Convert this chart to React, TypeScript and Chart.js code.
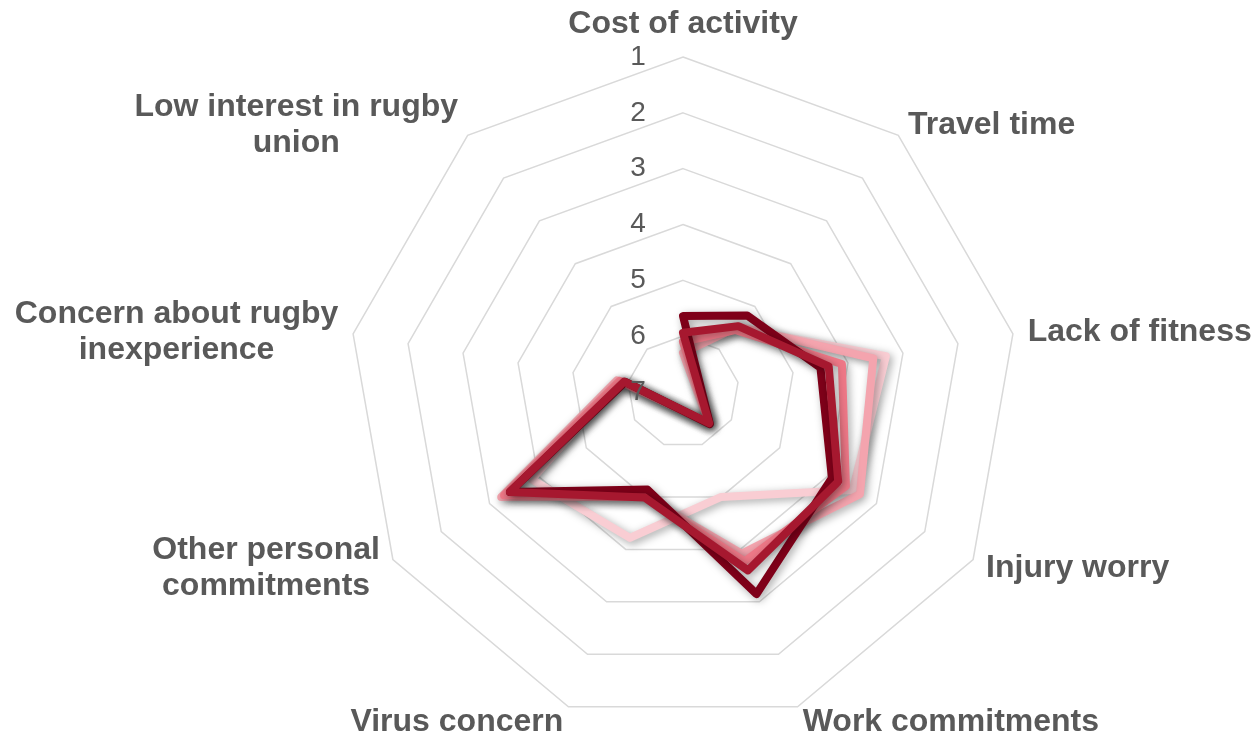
import React, { useEffect, useRef } from "react";
import { Chart, registerables } from "chart.js";

Chart.register(...registerables);

const categories: (string | string[])[] = [
  "Cost of activity",
  "Travel time",
  "Lack of fitness",
  "Injury worry",
  "Work commitments",
  "Virus concern",
  ["Other personal", "commitments"],
  ["Concern about rugby", "inexperience"],
  ["Low interest in rugby", "union"],
];

const tickValues = [1, 2, 3, 4, 5, 6, 7];

const seriesNames = ["Series 1", "Series 2", "Series 3", "Series 4", "Series 5"];
const series1 = [6.1, 5.5, 3.31, 3.49, 5.0, 4.22, 3.87, 5.85, 7.72];
const series2 = [6.3, 5.47, 3.54, 3.34, 3.92, 5.0, 3.24, 5.8, 7.72];
const series3 = [6.1, 5.55, 4.11, 3.63, 3.77, 5.0, 3.3, 5.85, 7.72];
const series4 = [5.94, 5.46, 4.35, 3.79, 3.6, 4.99, 3.42, 5.93, 7.73];
const series5 = [5.64, 5.21, 4.5, 3.92, 3.15, 5.14, 3.42, 5.95, 7.75];

const seriesColors = ["#F9CDD3", "#F4A4AE", "#EE7887", "#A6182F", "#7F0019"];
const seriesOrder = [5, 4, 3, 1, 2];

const TEXT = "#595959";
const FONT = '"Liberation Sans", Arial, sans-serif';

const radarText = {
  id: "radarText",
  beforeDatasetsDraw(chart: any) {
    const ctx = chart.ctx;
    ctx.save();
    ctx.shadowColor = "rgba(0,0,0,0.35)";
    ctx.shadowBlur = 9;
    ctx.shadowOffsetX = 2.5;
    ctx.shadowOffsetY = 2.5;
  },
  afterDatasetsDraw(chart: any) {
    const ctx = chart.ctx;
    ctx.restore();
    const scale = chart.scales.r;
    ctx.save();
    // tick labels
    ctx.font = "28px " + FONT;
    ctx.fillStyle = TEXT;
    ctx.textAlign = "center";
    ctx.textBaseline = "middle";
    scale.ticks.forEach((t: any) => {
      const d = scale.getDistanceFromCenterForValue(t.value);
      ctx.fillText(String(t.label), scale.xCenter - 45, scale.yCenter - d);
    });
    // point labels
    ctx.font = "bold 32px " + FONT;
    const lh = 36;
    (chart.data.labels as any[]).forEach((lab, i) => {
      const lines: string[] = Array.isArray(lab) ? lab : [lab];
      const deg = (scale.getIndexAngle(i) * 180) / Math.PI;
      const p = scale.getPointPosition(i, scale.drawingArea + 15);
      const widths = lines.map((l) => ctx.measureText(l).width);
      const bw = Math.max(...widths);
      const th = lines.length * lh;
      let cx = p.x;
      if (deg > 1 && deg < 179) cx = p.x + bw / 2;
      else if (deg > 181 && deg < 359) cx = p.x - bw / 2;
      let top = p.y - th / 2 + 1;
      if (deg <= 1 || deg >= 359) top = p.y - th;
      lines.forEach((l, k) => {
        ctx.fillText(l, cx, top + lh * (k + 0.5));
      });
    });
    ctx.restore();
  },
};

export default function App() {
  const ref = useRef<HTMLCanvasElement | null>(null);
  useEffect(() => {
    if (!ref.current) return;
    const all = [series1, series2, series3, series4, series5];
    const chart = new Chart(ref.current, {
      type: "radar",
      data: {
        labels: categories as any,
        datasets: all.map((d, i) => ({
          label: seriesNames[i],
          data: d,
          borderColor: seriesColors[i],
          backgroundColor: seriesColors[i],
          borderWidth: 8,
          fill: false,
          pointRadius: 0,
          pointHoverRadius: 0,
          order: seriesOrder[i],
          clip: false as any,
        })),
      },
      options: {
        responsive: false,
        animation: false,
        layout: { padding: { left: 348, right: 238, top: 57, bottom: 6 } },
        plugins: { legend: { display: false }, tooltip: { enabled: false } },
        elements: {
          line: { tension: 0, borderJoinStyle: "round", borderCapStyle: "round" },
        },
        scales: {
          r: {
            min: tickValues[0],
            max: tickValues[tickValues.length - 1],
            reverse: true,
            ticks: { display: false, stepSize: 1 },
            pointLabels: { display: false },
            angleLines: { display: false },
            grid: { color: "#D9D9D9", lineWidth: 1.5 },
          },
        },
      },
      plugins: [radarText],
    });
    return () => chart.destroy();
  }, []);
  return (
    <div>
      <canvas
        ref={ref}
        width={1256}
        height={733}
        style={{ position: "absolute", left: 0, top: 0 }}
      />
    </div>
  );
}
